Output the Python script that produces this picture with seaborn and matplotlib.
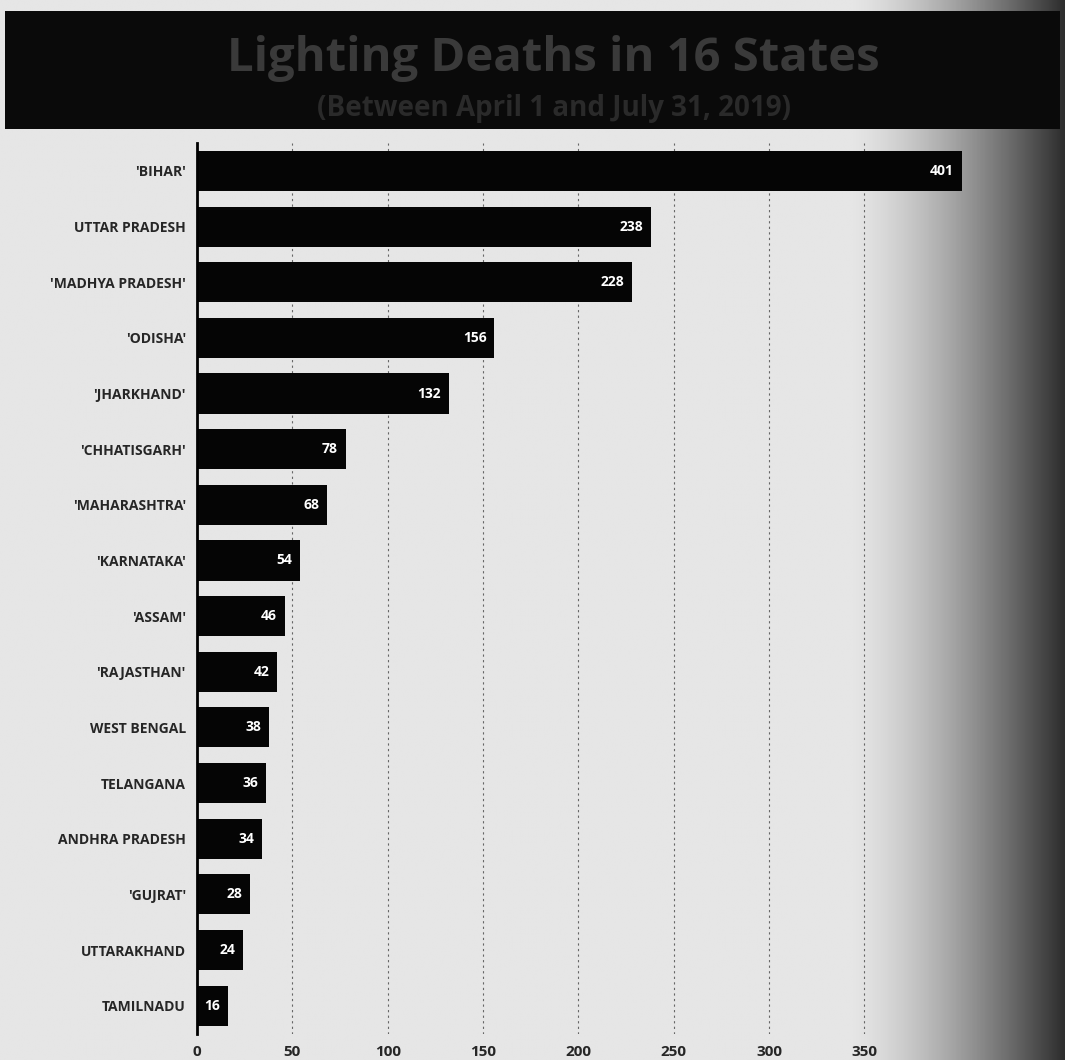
import matplotlib
matplotlib.use("Agg")
import matplotlib.pyplot as plt
import seaborn as sns
import numpy as np
import pandas as pd

# Data
states = ["'BIHAR'", "UTTAR PRADESH", "'MADHYA PRADESH'", "'ODISHA'", "'JHARKHAND'",
          "'CHHATISGARH'", "'MAHARASHTRA'", "'KARNATAKA'", "'ASSAM'", "'RAJASTHAN'",
          "WEST BENGAL", "TELANGANA", "ANDHRA PRADESH", "'GUJRAT'", "UTTARAKHAND",
          "TAMILNADU"]
deaths = [401, 238, 228, 156, 132, 78, 68, 54, 46, 42, 38, 36, 34, 28, 24, 16]
xticks = [0, 50, 100, 150, 200, 250, 300, 350]

df = pd.DataFrame({'State': states, 'Deaths': deaths})

sns.set_style('white')
plt.rcParams['font.family'] = ['Open Sans', 'DejaVu Sans']

fig = plt.figure(figsize=(10.65, 10.6), dpi=100)

# background: light grey fading to dark on the right
bg = fig.add_axes([0, 0, 1, 1], zorder=-2)
grad = np.linspace(0, 1, 400)
shade = 0.9 - 0.72 * np.clip((grad - 0.8) / 0.2, 0, 1) ** 1.4
bg.imshow(np.tile(shade, (10, 1)), cmap='gray', vmin=0, vmax=1,
          aspect='auto', extent=[0, 1, 0, 1])
bg.axis('off')

# title band
band = fig.add_axes([0.005, 0.878, 0.99, 0.112], zorder=-1)
band.set_facecolor('#0a0a0a')
band.set_xticks([])
band.set_yticks([])
for s in band.spines.values():
    s.set_visible(False)
fig.text(0.52, 0.945, 'Lighting Deaths in 16 States', ha='center', va='center',
         fontsize=34, fontweight='bold', color='#3a3a3a')
fig.text(0.52, 0.898, '(Between April 1 and July 31, 2019)', ha='center', va='center',
         fontsize=20, fontweight='bold', color='#2a2a2a')

ax = fig.add_axes([0.185, 0.025, 0.725, 0.84])
ax.patch.set_alpha(0)
sns.barplot(data=df, y='State', x='Deaths', color='#050505', width=0.72,
            orient='h', linewidth=0, ax=ax)

for i, v in enumerate(deaths):
    ax.text(v - 4, i, str(v), ha='right', va='center', color='white',
            fontsize=10, fontweight='bold')

ax.set_xlim(0, 405)
ax.set_xticks(xticks)
ax.set_xticklabels([str(t) for t in xticks], fontsize=11, fontweight='bold')
ax.tick_params(axis='x', length=0, pad=8)
ax.tick_params(axis='y', length=0, pad=8)
for lbl in ax.get_yticklabels():
    lbl.set_fontsize(10)
    lbl.set_fontweight('bold')
ax.xaxis.grid(True, linestyle=(0, (2, 3)), color='#666666', linewidth=0.8)
ax.set_axisbelow(True)
ax.set_xlabel('')
ax.set_ylabel('')
for side in ['top', 'right', 'bottom']:
    ax.spines[side].set_visible(False)
ax.spines['left'].set_color('black')
ax.spines['left'].set_linewidth(2)

fig.savefig('out.png', dpi=100)
